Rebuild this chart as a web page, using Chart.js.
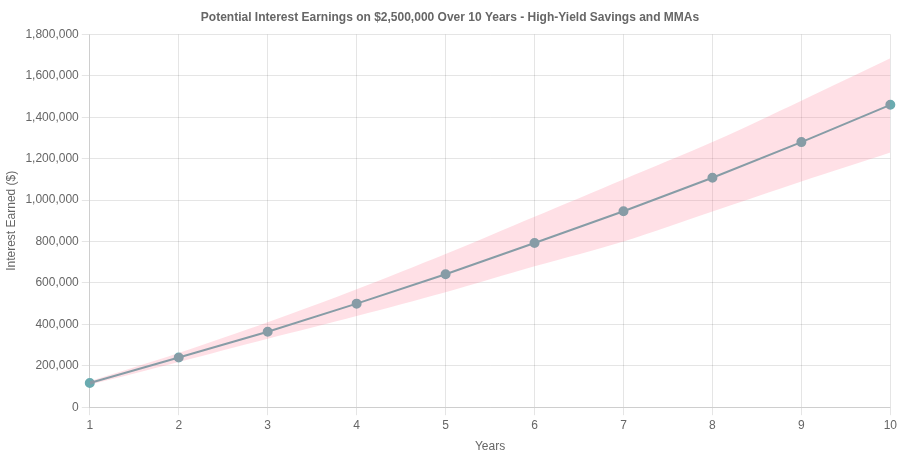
<!DOCTYPE html>
<html><head><meta charset="utf-8">
<script src="https://cdn.jsdelivr.net/npm/chart.js"></script>
<style>html,body{margin:0;padding:0;background:#fff}#w{width:900px;height:458px}</style>
</head><body><div id="w"><canvas id="c"></canvas></div>
<script>
const years = [1,2,3,4,5,6,7,8,9,10];
const expected = [117000,240000,364000,500000,642000,793000,946000,1108000,1280000,1460000];
const upper = [125000,262000,410000,570000,740000,920000,1100000,1280000,1480000,1685000];
const lower = [108000,218000,330000,440000,555000,680000,800000,945000,1090000,1230000];
Chart.defaults.font.family = "Helvetica, Arial, 'Liberation Sans', sans-serif";
Chart.defaults.color = '#666';
new Chart(document.getElementById('c'), {
  type: 'line',
  data: { labels: years, datasets: [
    { label: 'Upper', data: upper, borderColor: 'rgba(0,0,0,0)', backgroundColor: 'rgba(255,99,132,0.2)', pointRadius: 0, fill: '+1', tension: 0.3 },
    { label: 'Lower', data: lower, borderColor: 'rgba(0,0,0,0)', pointRadius: 0, fill: false, tension: 0.3 },
    { label: 'Expected', data: expected, borderColor: '#6aabb0', backgroundColor: '#6aabb0', borderWidth: 2, pointRadius: 4, fill: false, tension: 0 }
  ]},
  options: {
    responsive: true, maintainAspectRatio: false, animation: false,
    plugins: {
      legend: { display: false },
      title: { display: true, text: 'Potential Interest Earnings on $2,500,000 Over 10 Years - High-Yield Savings and MMAs', font: { size: 12, weight: 'bold' }, padding: { top: 10, bottom: 10 } }
    },
    scales: {
      x: { title: { display: true, text: 'Years' } },
      y: { min: 0, max: 1800000, ticks: { stepSize: 200000, callback: v => v.toLocaleString('en-US') }, title: { display: true, text: 'Interest Earned ($)' } }
    }
  }
});
</script></body></html>
